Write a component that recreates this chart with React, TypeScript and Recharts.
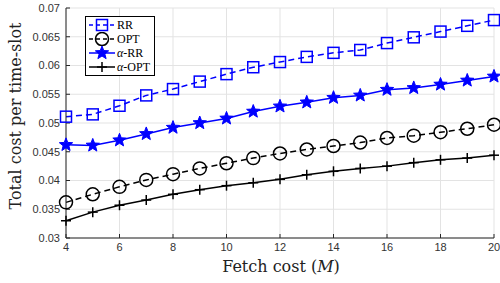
import React from 'react';
import { LineChart, Line, XAxis, YAxis, CartesianGrid, Legend, Label } from 'recharts';

const fetchCost = [4, 5, 6, 7, 8, 9, 10, 11, 12, 13, 14, 15, 16, 17, 18, 19, 20];
const rr = [0.0511, 0.0515, 0.053, 0.0548, 0.0559, 0.0572, 0.0585, 0.0597, 0.0606, 0.0615, 0.0622, 0.0627, 0.0639, 0.0649, 0.0659, 0.0669, 0.0679];
const opt = [0.0362, 0.0376, 0.0389, 0.0401, 0.0411, 0.0421, 0.043, 0.0439, 0.0447, 0.0454, 0.046, 0.0466, 0.0474, 0.0478, 0.0484, 0.049, 0.0497];
const alphaRR = [0.0462, 0.0461, 0.047, 0.0481, 0.0492, 0.05, 0.0508, 0.052, 0.0529, 0.0536, 0.0544, 0.0548, 0.0558, 0.0561, 0.0567, 0.0574, 0.0581];
const alphaOPT = [0.033, 0.0345, 0.0357, 0.0366, 0.0376, 0.0384, 0.0391, 0.0396, 0.0402, 0.041, 0.0416, 0.0421, 0.0425, 0.0431, 0.0436, 0.0439, 0.0444];

const xTicks = [4, 6, 8, 10, 12, 14, 16, 18, 20];
const yTicks = [0.03, 0.035, 0.04, 0.045, 0.05, 0.055, 0.06, 0.065, 0.07];

const BLUE = '#0000ff';
const BLACK = '#000000';
const AXIS = '#262626';
const LABEL_FONT = '"DejaVu Serif", "Liberation Serif", serif';
const TICK_FONT = '"Liberation Sans", Arial, sans-serif';

const data = fetchCost.map((m, i) => ({
  m,
  rr: rr[i],
  opt: opt[i],
  alphaRR: alphaRR[i],
  alphaOPT: alphaOPT[i],
}));

type Shape = 'square' | 'circle' | 'star' | 'plus';

function starPath(cx: number, cy: number, ro: number, ri: number) {
  let d = '';
  for (let k = 0; k < 10; k++) {
    const r = k % 2 === 0 ? ro : ri;
    const a = -Math.PI / 2 + (k * Math.PI) / 5;
    d += (k === 0 ? 'M' : 'L') + (cx + r * Math.cos(a)).toFixed(2) + ',' + (cy + r * Math.sin(a)).toFixed(2);
  }
  return d + 'Z';
}

function Marker({ shape, cx, cy, color }: { shape: Shape; cx: number; cy: number; color: string }) {
  if (shape === 'square') {
    return <rect x={cx - 5.5} y={cy - 5.5} width={11} height={11} fill="none" stroke={color} strokeWidth={1.5} />;
  }
  if (shape === 'circle') {
    return <circle cx={cx} cy={cy} r={6.5} fill="none" stroke={color} strokeWidth={1.5} />;
  }
  if (shape === 'star') {
    return <path d={starPath(cx, cy, 7, 3)} fill={color} stroke={color} strokeWidth={1} />;
  }
  return (
    <g stroke={color} strokeWidth={1.5}>
      <line x1={cx - 5} y1={cy} x2={cx + 5} y2={cy} />
      <line x1={cx} y1={cy - 5} x2={cx} y2={cy + 5} />
    </g>
  );
}

const dotFor = (shape: Shape, color: string) => (props: any) => (
  <Marker key={`${shape}-${props.index}`} shape={shape} cx={props.cx} cy={props.cy} color={color} />
);

const series = [
  { key: 'rr', name: 'RR', color: BLUE, shape: 'square' as Shape, dash: '6 4' },
  { key: 'opt', name: 'OPT', color: BLACK, shape: 'circle' as Shape, dash: '6 4' },
  { key: 'alphaRR', name: 'α-RR', color: BLUE, shape: 'star' as Shape, dash: undefined },
  { key: 'alphaOPT', name: 'α-OPT', color: BLACK, shape: 'plus' as Shape, dash: undefined },
];

function LegendBox() {
  return (
    <div
      style={{
        border: '1px solid #000',
        background: '#fff',
        padding: '1px 4px 1px 2px',
        fontFamily: '"Liberation Serif", serif',
        fontSize: 12,
        lineHeight: '14px',
        width: 'max-content',
      }}
    >
      {series.map((s) => (
        <div key={s.key} style={{ display: 'flex', alignItems: 'center', height: 14 }}>
          <svg width={28} height={14}>
            <line x1={1} y1={7} x2={27} y2={7} stroke={s.color} strokeWidth={1.5} strokeDasharray={s.dash ? '4 3' : undefined} />
            <Marker shape={s.shape} cx={14} cy={7} color={s.color} />
          </svg>
          <span style={{ marginLeft: 1 }}>
            {s.name.startsWith('α') ? (
              <>
                <i>α</i>
                {s.name.slice(1)}
              </>
            ) : (
              s.name
            )}
          </span>
        </div>
      ))}
    </div>
  );
}

export default function App() {
  return (
    <div style={{ position: 'absolute', left: 0, top: 0, width: 500, height: 283, background: '#fff' }}>
      <LineChart width={500} height={283} data={data} margin={{ top: 8, right: 6, bottom: 0, left: 16 }}>
        <CartesianGrid stroke="#e3e3e3" strokeWidth={1} vertical horizontal />
        <XAxis
          dataKey="m"
          type="number"
          domain={[4, 20]}
          ticks={xTicks}
          interval={0}
          height={45}
          stroke={AXIS}
          tickLine={{ stroke: AXIS }}
          tickSize={-4}
          tickMargin={9}
          tick={{ fontSize: 11, fill: '#333', fontFamily: TICK_FONT }}
        >
          <Label
            content={() => (
              <text x={281} y={272} textAnchor="middle" fontFamily={LABEL_FONT} fontSize={16} fill="#222">
                Fetch cost (<tspan fontStyle="italic">M</tspan>)
              </text>
            )}
          />
        </XAxis>
        <XAxis
          xAxisId="top"
          dataKey="m"
          type="number"
          domain={[4, 20]}
          ticks={xTicks}
          interval={0}
          orientation="top"
          height={0}
          tick={false}
          tickSize={-4}
          tickLine={{ stroke: AXIS }}
          stroke={AXIS}
        />
        <YAxis
          type="number"
          domain={[0.03, 0.07]}
          ticks={yTicks}
          interval={0}
          width={50}
          stroke={AXIS}
          tickLine={{ stroke: AXIS }}
          tickSize={-4}
          tickMargin={10}
          tick={{ fontSize: 11, fill: '#333', fontFamily: TICK_FONT }}
        >
          <Label
            content={() => (
              <text
                x={21}
                y={116}
                transform="rotate(-90 21 116)"
                textAnchor="middle"
                fontFamily={LABEL_FONT}
                fontSize={16}
                fill="#222"
              >
                Total cost per time-slot
              </text>
            )}
          />
        </YAxis>
        <YAxis
          yAxisId="right"
          orientation="right"
          type="number"
          domain={[0.03, 0.07]}
          ticks={yTicks}
          interval={0}
          width={0}
          tick={false}
          tickSize={-4}
          tickLine={{ stroke: AXIS }}
          stroke={AXIS}
        />
        <Legend
          layout="horizontal"
          verticalAlign="middle"
          align="center"
          wrapperStyle={{ left: 85, top: 16, width: 'auto', height: 'auto' }}
          content={() => <LegendBox />}
        />
        {series.map((s) => (
          <Line
            key={s.key}
            dataKey={s.key}
            name={s.name}
            type="linear"
            stroke={s.color}
            strokeWidth={1.5}
            strokeDasharray={s.dash}
            dot={dotFor(s.shape, s.color)}
            activeDot={false}
            isAnimationActive={false}
          />
        ))}
      </LineChart>
    </div>
  );
}
